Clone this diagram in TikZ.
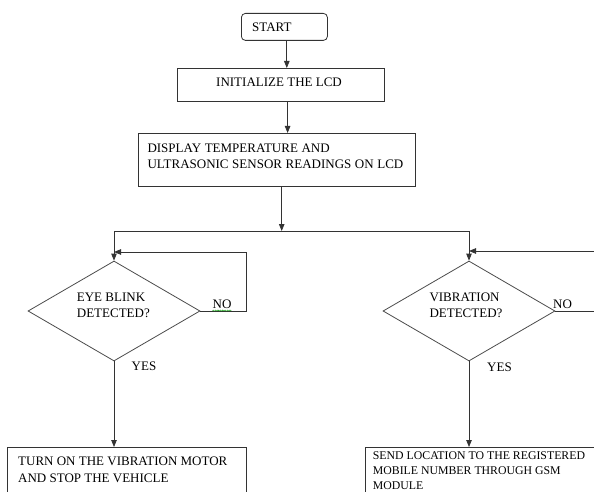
\documentclass[tikz,border=0pt]{standalone}
\usepackage{fontspec}
\setmainfont{Liberation Serif}
\usetikzlibrary{shapes.geometric,arrows.meta,decorations.pathmorphing}
\begin{document}
\begin{tikzpicture}[x=1pt,y=-1pt,
  line/.style={draw=black!80, line width=0.8pt},
  arr/.style={line, -{Triangle[length=7pt,width=5.5pt]}},
  box/.style={draw=black!80, line width=0.8pt, rectangle, inner sep=0pt, anchor=north west},
  txt/.style={inner sep=0pt, anchor=north west, align=left, font=\fontsize{13}{16.6}\selectfont},
  txtb/.style={txt, font=\fontsize{11.8}{15}\selectfont},
  dia/.style={draw=black!70, line width=0.8pt, diamond, inner sep=0pt, minimum width=172pt, minimum height=100pt},
  lbl/.style={inner sep=0pt, font=\fontsize{13}{15}\selectfont}]
\fill[white] (0,0) rectangle (594,492);
\useasboundingbox (0,0) rectangle (594,492);

% boxes
\node[box, rounded corners=4pt, minimum width=86pt, minimum height=27pt] (start) at (241,13) {};
\node[txt] (starttxt) at (252,23) {START};
\node[box, minimum width=207pt, minimum height=33pt] (init) at (177,68) {};
\node[txt] (inittxt) at (216,77.5) {INITIALIZE THE LCD};
\node[box, minimum width=277pt, minimum height=53pt] (disp) at (138,133) {};
\node[txt] (disptxt) at (147.3,143.3) {DISPLAY\hspace{3.6pt}TEMPERATURE\hspace{3.6pt}AND\\ULTRASONIC\hspace{3.6pt}SENSOR\hspace{3.6pt}READINGS\hspace{3.6pt}ON\hspace{3.6pt}LCD};

% decisions
\node[dia] (d1) at (114,311) {};
\node[txt, font=\fontsize{13}{16}\selectfont] (d1txt) at (76.7,293) {EYE BLINK\\DETECTED?};
\node[dia] (d2) at (469,311) {};
\node[txt, font=\fontsize{13}{16}\selectfont] (d2txt) at (429.3,292.3) {VIBRATION\\DETECTED?};

% bottom boxes
\node[box, minimum width=239pt, minimum height=70pt] (b1) at (7,447) {};
\node[txt] (b1txt) at (18,456.7) {TURN ON THE VIBRATION MOTOR\\AND STOP THE VEHICLE};
\node[box, minimum width=260pt, minimum height=70pt] (b2) at (365,447) {};
\node[txtb] (b2txt) at (372.7,451.7) {SEND LOCATION TO THE REGISTERED\\MOBILE NUMBER THROUGH GSM\\MODULE};

% connectors
\draw[arr] ([xshift=2.4pt]start.south) -- ([xshift=2.4pt]start.south |- init.north);
\draw[arr] ([xshift=6.7pt]init.south) -- ([xshift=6.7pt]init.south |- disp.north);
\coordinate (j) at (281.7,231);
\draw[arr] (disp.south -| j) -- (j);
\draw[arr] (j) -| (d1.north);
\draw[arr] (j) -| (d2.north);

\coordinate (loop1) at (246,252);
\draw[arr] (d1.east) -| (loop1) -- (loop1 -| d1.north);
\coordinate (loop2) at (620,251);
\draw[arr] (d2.east) -| (loop2) -- (loop2 -| d2.north);

\draw[arr] (d1.south) -- (b1.north -| d1.south);
\draw[arr] (d2.south) -- (b2.north -| d2.south);

% labels
\node[lbl] (no1) at (222,304) {NO};
\draw[green!60!black, line width=0.4pt, decorate, decoration={snake, amplitude=0.6pt, segment length=2.4pt}] (no1.south west) ++(0,2) -- ++(19,0);
\node[lbl] (no2) at (562.5,304) {NO};
\node[lbl] (yes1) at (144,366.5) {YES};
\node[lbl] (yes2) at (499.5,367) {YES};
\end{tikzpicture}
\end{document}
